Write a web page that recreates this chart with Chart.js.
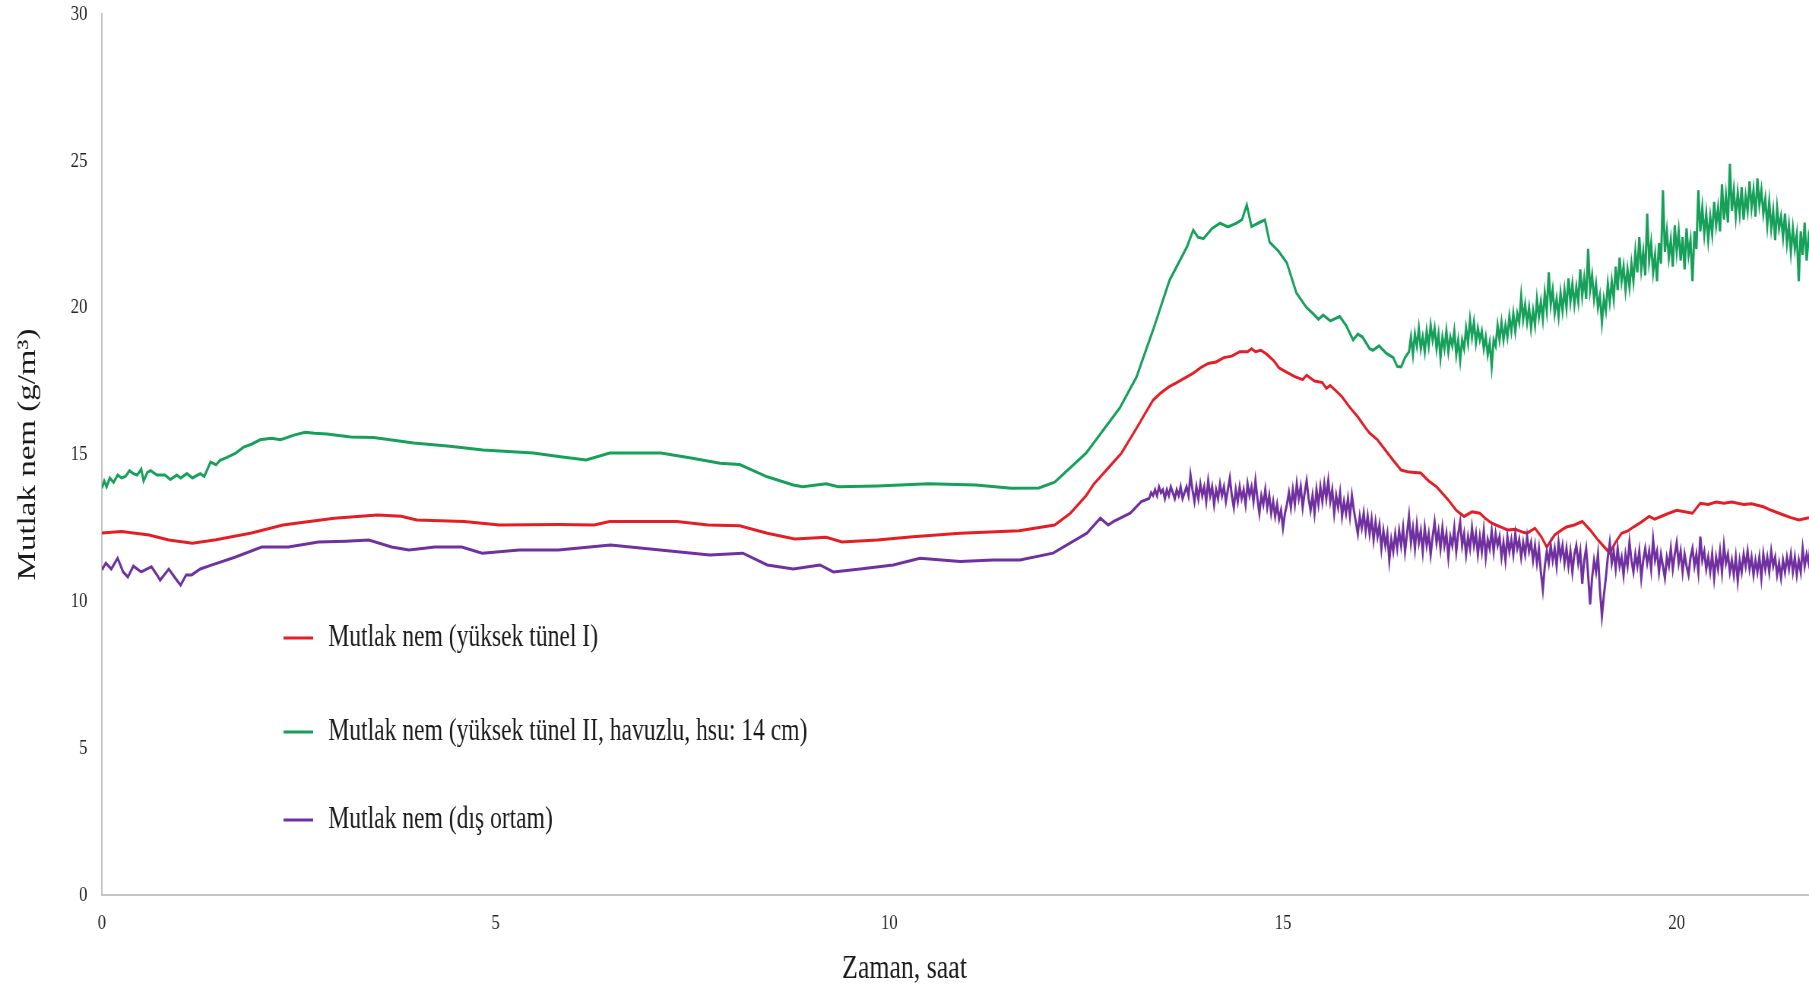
<!DOCTYPE html>
<html>
<head>
<meta charset="utf-8">
<script src="https://cdn.jsdelivr.net/npm/chart.js@4"></script>
<style>
html,body{margin:0;padding:0;background:#fff;overflow:hidden;width:1809px;height:990px}
#wrap{position:absolute;left:0;top:0;width:2380px;height:990px;transform:scaleX(0.76008);transform-origin:0 0}
canvas{display:block}
</style>
</head>
<body>
<div id="wrap"><canvas id="c" width="2380" height="990"></canvas></div>
<script>
// ---- data (time in hours, absolute humidity in g/m3) ----
const seriesLabels = [
  'Mutlak nem (yüksek tünel I)',
  'Mutlak nem (yüksek tünel II, havuzlu, hsu: 14 cm)',
  'Mutlak nem (dış ortam)'
];
const xTitle = 'Zaman, saat';
const yTitle = 'Mutlak nem (g/m³)';
const yTicks = [0, 5, 10, 15, 20, 25, 30];
const xTicks = [0, 5, 10, 15, 20];

const redSeries = [
  [0,12.33],[0.25,12.38],[0.6,12.26],[0.85,12.09],[1.15,11.98],[1.45,12.1],[1.9,12.33],[2.3,12.6],[2.95,12.83],[3.5,12.94],
  [3.8,12.9],[4.0,12.77],[4.6,12.72],[5.05,12.6],[5.8,12.62],[6.25,12.6],[6.45,12.72],[7.3,12.72],[7.7,12.6],[8.1,12.57],
  [8.45,12.32],[8.8,12.12],[9.2,12.18],[9.4,12.02],[9.85,12.09],[10.3,12.2],[10.9,12.32],[11.65,12.4],
  [12.1,12.6],[12.3,13.0],[12.5,13.6],[12.6,14.0],[12.7,14.3],[12.8,14.6],[12.95,15.05],[13.05,15.5],[13.15,15.94],[13.25,16.4],
  [13.35,16.85],[13.45,17.1],[13.55,17.3],[13.65,17.45],[13.75,17.6],[13.85,17.75],[13.95,17.95],[14.05,18.1],[14.15,18.15],[14.25,18.3],
  [14.35,18.35],[14.45,18.5],[14.55,18.5],[14.6,18.6],[14.65,18.5],[14.72,18.55],[14.8,18.4],[14.88,18.2],[14.95,17.95],[15.05,17.8],
  [15.15,17.65],[15.25,17.55],[15.3,17.7],[15.4,17.5],[15.5,17.45],[15.55,17.25],[15.6,17.35],[15.7,17.1],[15.75,16.96],[15.85,16.6],
  [15.95,16.28],[16.05,15.9],[16.1,15.73],[16.2,15.5],[16.3,15.15],[16.4,14.8],[16.5,14.47],[16.6,14.4],[16.75,14.37],[16.85,14.1],
  [16.95,13.9],[17.05,13.6],[17.1,13.45],[17.2,13.1],[17.3,12.89],[17.4,13.05],[17.5,13.0],[17.58,12.8],[17.65,12.66],[17.75,12.55],
  [17.85,12.43],[17.95,12.45],[18.05,12.35],[18.1,12.32],[18.2,12.49],[18.28,12.2],[18.35,11.85],[18.45,12.26],[18.55,12.45],[18.6,12.53],
  [18.7,12.6],[18.8,12.72],[18.9,12.43],[19.0,12.09],[19.08,11.85],[19.15,11.64],[19.22,12.0],[19.3,12.32],[19.38,12.4],[19.45,12.53],
  [19.55,12.7],[19.65,12.89],[19.72,12.8],[19.8,12.89],[19.9,13.0],[20.0,13.1],[20.1,13.05],[20.2,13.0],[20.3,13.34],[20.4,13.3],
  [20.5,13.38],[20.6,13.34],[20.7,13.38],[20.85,13.3],[20.95,13.32],[21.1,13.22],[21.2,13.1],[21.35,12.95],[21.45,12.85],[21.55,12.77],
  [21.68,12.85]
];

const greenSeries = [
  [0,13.85],[0.03,14.1],[0.06,13.9],[0.1,14.2],[0.15,14.05],[0.2,14.3],[0.25,14.2],[0.3,14.25],[0.35,14.45],[0.4,14.35],
  [0.45,14.3],[0.5,14.5],[0.53,14.1],[0.58,14.4],[0.62,14.45],[0.7,14.3],[0.8,14.3],[0.87,14.15],[0.95,14.3],[1.0,14.2],
  [1.08,14.35],[1.15,14.2],[1.25,14.35],[1.3,14.25],[1.38,14.74],[1.45,14.65],[1.5,14.8],[1.59,14.9],[1.7,15.05],[1.8,15.25],
  [1.9,15.35],[2.01,15.5],[2.15,15.55],[2.27,15.5],[2.44,15.66],[2.58,15.76],[2.7,15.72],[2.86,15.7],[3.16,15.6],[3.45,15.58],
  [3.96,15.39],[4.42,15.28],[4.84,15.15],[5.48,15.05],[5.8,14.93],[6.15,14.81],[6.45,15.05],[7.1,15.05],[7.5,14.87],[7.85,14.7],
  [8.1,14.66],[8.45,14.24],[8.78,13.96],[8.9,13.9],[9.2,14.0],[9.35,13.9],[9.85,13.93],[10.5,14.0],[11.1,13.96],[11.55,13.85],
  [11.9,13.86],[12.1,14.06],[12.5,15.05],[12.93,16.6],[13.14,17.64],[13.35,19.24],[13.56,20.94],[13.78,22.07],[13.86,22.64],[13.92,22.4],
  [13.99,22.35],[14.1,22.7],[14.2,22.88],[14.3,22.75],[14.41,22.88],[14.48,23.0],[14.54,23.5],[14.6,22.76],[14.7,22.9],[14.77,22.99],
  [14.83,22.23],[14.95,21.9],[15.05,21.52],[15.17,20.5],[15.3,20.0],[15.38,19.8],[15.45,19.6],[15.51,19.75],[15.6,19.55],[15.72,19.7],
  [15.8,19.4],[15.89,18.9],[15.95,19.1],[16.01,19.0],[16.1,18.6],[16.14,18.55],[16.22,18.7],[16.31,18.45],[16.4,18.3],[16.45,18.0],
  [16.5,17.98],[16.55,18.3],
  [16.600,18.5],[16.625,19.0],[16.650,18.4],[16.675,19.1],[16.700,18.7],[16.725,19.3],[16.750,18.6],[16.775,19.0],[16.800,18.5],[16.825,19.2],
  [16.850,18.7],[16.875,19.4],[16.900,18.9],[16.925,19.3],[16.950,18.6],[16.975,19.1],[17.000,18.3],[17.025,19.0],[17.050,18.6],[17.075,19.2],
  [17.100,18.5],[17.125,19.0],[17.150,18.7],[17.175,19.2],[17.200,18.4],[17.225,18.9],[17.250,18.2],[17.275,18.9],[17.300,18.6],[17.325,19.3],
  [17.350,18.8],[17.375,19.6],[17.400,19.0],[17.425,19.5],[17.450,18.8],[17.475,19.3],[17.500,18.9],[17.525,19.2],[17.550,18.6],[17.575,19.0],
  [17.600,18.4],[17.625,18.8],[17.650,18.0],[17.675,18.9],[17.700,18.7],[17.725,19.4],[17.750,18.9],[17.775,19.5],[17.800,18.9],[17.825,19.4],
  [17.850,19.0],[17.875,19.7],[17.900,19.2],[17.925,19.8],[17.950,19.2],[17.975,19.8],[18.000,19.5],[18.025,20.4],[18.050,19.6],[18.075,20.1],
  [18.100,19.5],[18.125,20.0],[18.150,19.3],[18.175,19.9],[18.200,19.4],[18.225,20.3],[18.250,19.7],[18.275,20.2],[18.300,19.6],[18.325,20.5],
  [18.350,19.9],[18.375,21.2],[18.400,20.1],[18.425,20.6],[18.450,19.8],[18.475,20.3],[18.500,19.7],[18.525,20.5],[18.550,19.9],[18.575,20.6],
  [18.600,20.0],[18.625,21.0],[18.650,20.2],[18.675,20.8],[18.700,20.1],[18.725,20.7],[18.750,20.2],[18.775,21.3],[18.800,20.4],[18.825,21.0],
  [18.850,20.3],[18.875,22.0],[18.900,20.6],[18.925,21.1],[18.950,20.3],[18.975,20.8],[19.000,20.0],[19.025,20.4],[19.050,19.5],[19.075,20.3],
  [19.100,19.9],[19.125,20.8],[19.150,20.2],[19.175,20.9],[19.200,20.3],[19.225,21.4],[19.250,20.6],[19.275,21.7],[19.300,20.9],[19.325,21.4],
  [19.350,20.6],[19.375,21.3],[19.400,20.7],[19.425,21.5],[19.450,20.9],[19.475,21.9],[19.500,21.2],[19.525,22.4],[19.550,21.3],[19.575,21.9],
  [19.600,21.1],[19.625,23.2],[19.650,21.6],[19.675,22.2],[19.700,21.2],[19.725,21.8],[19.750,20.9],[19.775,22.2],[19.800,21.5],[19.825,24.0],
  [19.850,21.9],[19.875,22.6],[19.900,21.7],[19.925,22.3],[19.950,21.4],[19.975,22.8],[20.000,21.9],[20.025,22.6],[20.050,21.6],[20.075,22.4],
  [20.100,21.3],[20.125,22.7],[20.150,21.8],[20.175,22.3],[20.200,20.9],[20.225,22.6],[20.250,22.0],[20.275,24.0],[20.300,22.6],[20.325,23.4],
  [20.350,22.5],[20.375,23.2],[20.400,22.3],[20.425,23.1],[20.450,22.5],[20.475,23.6],[20.500,22.8],[20.525,23.4],[20.550,22.6],[20.575,24.2],
  [20.600,23.0],[20.625,23.8],[20.650,22.9],[20.675,24.9],[20.700,23.3],[20.725,24.0],[20.750,23.1],[20.775,23.9],[20.800,23.2],[20.825,24.1],
  [20.850,23.0],[20.875,23.8],[20.900,23.3],[20.925,24.3],[20.950,23.4],[20.975,24.0],[21.000,23.1],[21.025,24.4],[21.050,23.5],[21.075,24.0],
  [21.100,23.2],[21.125,23.7],[21.150,22.8],[21.175,23.6],[21.200,22.7],[21.225,23.3],[21.250,22.3],[21.275,23.4],[21.300,22.7],[21.325,23.1],
  [21.350,22.4],[21.375,23.2],[21.400,22.2],[21.425,22.8],[21.450,21.9],[21.475,22.7],[21.500,22.0],[21.525,22.5],[21.550,20.9],[21.575,22.6],
  [21.600,21.8],[21.625,22.9],[21.650,21.6],[21.675,22.4],[21.700,22.0]
];

const purpleSeries = [
  [0,11.07],[0.05,11.3],[0.12,11.1],[0.2,11.47],[0.27,11.0],[0.33,10.83],[0.4,11.2],[0.5,11.0],[0.63,11.18],[0.7,10.9],
  [0.74,10.72],[0.85,11.1],[0.93,10.8],[1.0,10.55],[1.07,10.9],[1.14,10.9],[1.25,11.1],[1.4,11.24],[1.69,11.5],[2.03,11.85],
  [2.37,11.85],[2.75,12.02],[3.1,12.05],[3.39,12.09],[3.68,11.85],[3.9,11.75],[4.23,11.85],[4.57,11.85],[4.83,11.64],[5.3,11.75],
  [5.8,11.75],[6.46,11.92],[7.09,11.75],[7.72,11.58],[8.14,11.64],[8.45,11.24],[8.78,11.1],[9.12,11.24],[9.29,11.0],[9.63,11.1],
  [10.05,11.24],[10.39,11.47],[10.9,11.36],[11.32,11.41],[11.66,11.41],[12.08,11.64],[12.51,12.32],[12.68,12.83],[12.78,12.6],[12.85,12.72],
  [13.06,13.0],[13.2,13.4],
  [13.300,13.5],[13.325,13.7],[13.350,13.6],[13.375,13.8],[13.400,13.6],[13.425,13.9],[13.450,13.7],[13.475,13.8],[13.500,13.5],[13.525,13.8],
  [13.550,13.6],[13.575,13.9],[13.600,13.7],[13.625,13.5],[13.650,13.8],[13.675,13.6],[13.700,13.9],[13.725,13.5],[13.750,13.7],[13.775,13.9],
  [13.800,13.6],[13.825,14.3],[13.850,13.8],[13.875,13.4],[13.900,13.9],[13.925,13.5],[13.950,14.0],[13.975,13.6],[14.000,13.9],[14.025,13.4],
  [14.050,14.1],[14.075,13.6],[14.100,13.9],[14.125,13.3],[14.150,13.8],[14.175,13.5],[14.200,14.0],[14.225,13.6],[14.250,13.9],[14.275,13.4],
  [14.300,13.8],[14.325,14.2],[14.350,13.6],[14.375,13.2],[14.400,13.8],[14.425,13.4],[14.450,13.9],[14.475,13.5],[14.500,13.8],[14.525,13.3],
  [14.550,14.0],[14.575,13.6],[14.600,13.9],[14.625,13.4],[14.650,14.1],[14.675,13.5],[14.700,13.0],[14.725,13.6],[14.750,13.3],[14.775,13.8],
  [14.800,13.2],[14.825,13.6],[14.850,13.0],[14.875,13.4],[14.900,12.9],[14.925,13.3],[14.950,12.8],[14.975,13.1],[15.000,12.5],[15.025,13.0],
  [15.050,13.3],[15.075,13.7],[15.100,13.2],[15.125,13.8],[15.150,13.3],[15.175,14.0],[15.200,13.5],[15.225,13.9],[15.250,13.2],[15.275,13.7],
  [15.300,14.1],[15.325,13.5],[15.350,13.1],[15.375,13.6],[15.400,13.0],[15.425,13.8],[15.450,13.3],[15.475,13.9],[15.500,13.4],[15.525,14.0],
  [15.550,13.5],[15.575,14.1],[15.600,13.4],[15.625,13.8],[15.650,13.0],[15.675,13.6],[15.700,13.2],[15.725,13.7],[15.750,12.9],[15.775,13.4],
  [15.800,13.0],[15.825,13.5],[15.850,12.9],[15.875,13.6],[15.900,13.1],[15.925,12.7],[15.950,12.3],[15.975,12.9],[16.000,12.5],[16.025,13.0],
  [16.050,12.4],[16.075,12.9],[16.100,12.3],[16.125,12.8],[16.150,12.1],[16.175,12.7],[16.200,12.2],[16.225,12.6],[16.250,11.8],[16.275,12.4],
  [16.300,11.9],[16.325,12.3],[16.350,11.4],[16.375,12.1],[16.400,11.7],[16.425,12.3],[16.450,11.8],[16.475,12.4],[16.500,11.9],[16.525,12.5],
  [16.550,11.7],[16.575,12.3],[16.600,12.9],[16.625,12.0],[16.650,12.5],[16.675,11.8],[16.700,12.6],[16.725,12.0],[16.750,12.4],[16.775,11.7],
  [16.800,12.5],[16.825,11.9],[16.850,12.3],[16.875,11.6],[16.900,12.2],[16.925,12.7],[16.950,12.0],[16.975,12.4],[17.000,11.8],[17.025,12.5],
  [17.050,11.9],[17.075,12.3],[17.100,11.5],[17.125,12.2],[17.150,11.9],[17.175,12.5],[17.200,11.7],[17.225,12.3],[17.250,12.7],[17.275,11.9],
  [17.300,12.3],[17.325,11.6],[17.350,12.2],[17.375,11.8],[17.400,12.5],[17.425,11.9],[17.450,12.3],[17.475,11.6],[17.500,12.2],[17.525,11.7],
  [17.550,12.4],[17.575,11.5],[17.600,12.1],[17.625,11.8],[17.650,12.4],[17.675,11.7],[17.700,12.3],[17.725,11.9],[17.750,12.2],[17.775,11.5],
  [17.800,12.0],[17.825,11.4],[17.850,12.2],[17.875,11.7],[17.900,12.1],[17.925,11.6],[17.950,12.3],[17.975,11.8],[18.000,12.1],[18.025,11.5],
  [18.050,12.0],[18.075,11.6],[18.100,12.2],[18.125,11.7],[18.150,12.0],[18.175,11.4],[18.200,11.9],[18.225,11.3],[18.250,11.8],[18.275,11.0],
  [18.300,10.4],[18.325,11.2],[18.350,11.7],[18.375,11.3],[18.400,11.9],[18.425,11.4],[18.450,11.8],[18.475,11.2],[18.500,12.0],[18.525,11.5],
  [18.550,11.9],[18.575,11.3],[18.600,11.8],[18.625,11.2],[18.650,11.7],[18.675,11.0],[18.700,11.6],[18.725,11.9],[18.750,11.3],[18.775,11.7],
  [18.800,10.6],[18.825,11.4],[18.850,11.8],[18.875,10.9],[18.900,9.9],[18.925,10.8],[18.950,11.4],[18.975,11.0],[19.000,11.6],[19.025,10.4],
  [19.050,9.5],[19.075,10.2],[19.100,10.8],[19.125,11.5],[19.150,12.0],[19.175,11.3],[19.200,11.7],[19.225,11.1],[19.250,11.8],[19.275,11.2],
  [19.300,11.5],[19.325,10.9],[19.350,11.6],[19.375,11.2],[19.400,12.0],[19.425,11.4],[19.450,11.0],[19.475,11.6],[19.500,11.2],[19.525,11.7],
  [19.550,10.8],[19.575,11.4],[19.600,11.8],[19.625,11.3],[19.650,11.7],[19.675,11.1],[19.700,12.1],[19.725,11.4],[19.750,11.7],[19.775,11.0],
  [19.800,11.6],[19.825,11.2],[19.850,10.8],[19.875,11.5],[19.900,11.2],[19.925,11.8],[19.950,11.1],[19.975,11.6],[20.000,12.0],[20.025,11.3],
  [20.050,11.7],[20.075,11.0],[20.100,11.6],[20.125,11.2],[20.150,10.9],[20.175,11.5],[20.200,11.8],[20.225,11.2],[20.250,11.6],[20.275,11.0],
  [20.300,12.2],[20.325,11.4],[20.350,11.7],[20.375,11.1],[20.400,11.5],[20.425,11.0],[20.450,11.6],[20.475,10.8],[20.500,11.5],[20.525,11.1],
  [20.550,11.7],[20.575,11.0],[20.600,11.9],[20.625,11.3],[20.650,11.6],[20.675,11.0],[20.700,11.4],[20.725,10.9],[20.750,11.5],[20.775,10.7],
  [20.800,11.4],[20.825,11.0],[20.850,11.6],[20.875,11.2],[20.900,11.7],[20.925,11.1],[20.950,11.5],[20.975,10.9],[21.000,11.4],[21.025,11.0],
  [21.050,11.5],[21.075,10.8],[21.100,11.6],[21.125,11.1],[21.150,11.5],[21.175,11.0],[21.200,11.7],[21.225,11.2],[21.250,11.5],[21.275,10.9],
  [21.300,11.3],[21.325,10.8],[21.350,11.4],[21.375,11.0],[21.400,11.5],[21.425,11.1],[21.450,11.6],[21.475,11.0],[21.500,11.5],[21.525,10.9],
  [21.550,11.4],[21.575,11.0],[21.600,11.8],[21.625,11.2],[21.650,11.6],[21.675,11.3],[21.700,12.0]
];

const seriesColors = ['#e41e24', '#16a05a', '#7030a0'];

// ---- chart ----
const toPoints = s => s.map(p => ({x: p[0], y: p[1]}));
const FONT = 'Liberation Serif';

const inlineLegend = {
  id: 'inlineLegend',
  afterDraw(chart) {
    const ctx = chart.ctx;
    const rowY = [638, 732, 820];
    ctx.save();
    ctx.font = '31px "' + FONT + '"';
    ctx.textBaseline = 'middle';
    ctx.textAlign = 'left';
    chart.data.datasets.forEach((ds, i) => {
      const y = rowY[i];
      ctx.strokeStyle = ds.borderColor;
      ctx.lineWidth = 3;
      ctx.beginPath();
      ctx.moveTo(373, y);
      ctx.lineTo(412, y);
      ctx.stroke();
      ctx.fillStyle = '#1a1a1a';
      ctx.fillText(ds.label, 432, y);
    });
    ctx.restore();
  }
};

new Chart(document.getElementById('c'), {
  type: 'line',
  data: {
    datasets: [
      {label: seriesLabels[0], data: toPoints(redSeries), borderColor: seriesColors[0], order: 3},
      {label: seriesLabels[1], data: toPoints(greenSeries), borderColor: seriesColors[1], order: 2},
      {label: seriesLabels[2], data: toPoints(purpleSeries), borderColor: seriesColors[2], order: 1}
    ]
  },
  options: {
    responsive: false,
    animation: false,
    events: [],
    layout: {padding: {top: 14, left: 0, right: 0, bottom: 0}},
    elements: {point: {radius: 0}, line: {borderWidth: 3, tension: 0}},
    plugins: {
      legend: {display: false},
      tooltip: {enabled: false},
      title: {
        display: true, position: 'bottom', text: xTitle, color: '#1a1a1a',
        font: {family: FONT, size: 34, lineHeight: 1, weight: 'normal'},
        padding: {top: 0, bottom: 4}
      }
    },
    scales: {
      x: {
        type: 'linear', min: 0, max: 21.68,
        afterFit(s) { s.height = 57; },
        afterBuildTicks(s) { s.ticks = xTicks.map(v => ({value: v})); },
        grid: {display: false, drawTicks: false},
        border: {display: true, color: '#c4c4c4', width: 2},
        ticks: {padding: 15, color: '#262626', maxRotation: 0, autoSkip: false,
                font: {family: FONT, size: 22}}
      },
      y: {
        type: 'linear', min: 0, max: 30,
        afterFit(s) { s.width = 134; },
        afterBuildTicks(s) { s.ticks = yTicks.map(v => ({value: v})); },
        grid: {display: true, drawOnChartArea: false, drawTicks: true, tickLength: 19, color: 'rgba(0,0,0,0)'},
        border: {display: true, color: '#c4c4c4', width: 2},
        ticks: {padding: 0, color: '#262626', font: {family: FONT, size: 22}},
        title: {
          display: true, text: yTitle, color: '#1a1a1a',
          font: {family: FONT, size: 33, lineHeight: 1},
          padding: {top: 21, bottom: 0}
        }
      }
    }
  },
  plugins: [inlineLegend]
});
</script>
</body>
</html>
